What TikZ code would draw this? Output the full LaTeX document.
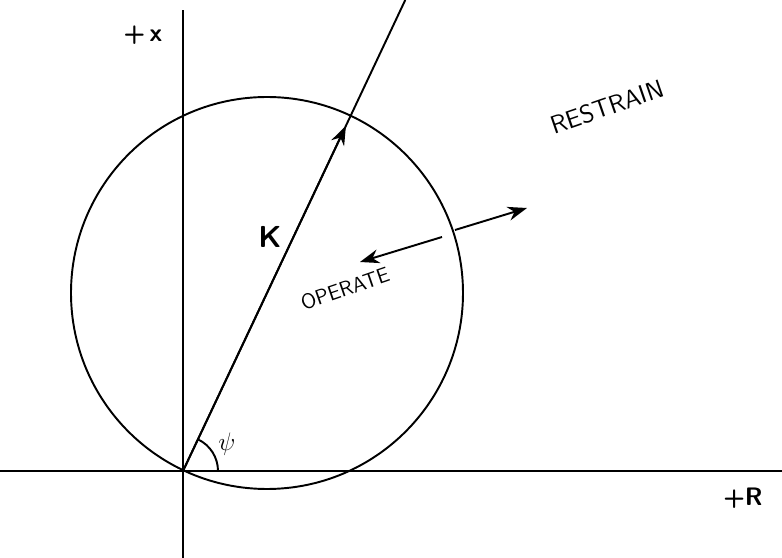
\documentclass[tikz,border=0pt]{standalone}
\usepackage{tikz}
\usetikzlibrary{arrows.meta,positioning,calc}

\begin{document}
\begin{tikzpicture}[x=0.02cm, y=0.02cm, line width=1.1pt,
    lab/.style={font=\sffamily\bfseries\Large},
    zone/.style={font=\sffamily\large, rotate=19},
    tip/.style={-{Stealth[length=11pt,width=8pt]}}]
    \useasboundingbox (-183,-87) rectangle (599,471);

    % Axes
    \coordinate (O) at (0,0);
    \draw (0,-87) -- (0,461);
    \draw (-183,0) -- (599,0);
    \node[lab] (xlab) at (-40,436) {+\,x};
    \node[lab] (Rlab) at (560,-27) {+R};

    % Characteristic circle
    \coordinate (C) at (84,178);
    \draw (C) circle (196);

    % Reach K along the diameter
    \coordinate (Kend) at ($(O)!2!(C)$);
    \coordinate (Ktop) at ($(O)!1.323!(Kend)$);
    \draw (O) -- (Ktop);
    \draw[tip] (O) -- ($(O)!0.97!(Kend)$);
    \node[font=\sffamily\bfseries\LARGE] (K) at (87,234) {K};

    % Angle
    \draw (35,0) arc (0:64.7:35);
    \node[font=\Large] (psi) at (44,27) {$\psi$};

    % Operate / restrain
    \coordinate (opA) at (259,234);
    \coordinate (opB) at (177,209);
    \coordinate (reA) at (272,241);
    \coordinate (reB) at (344,263);
    \draw[tip] (opA) -- (opB);
    \draw[tip] (reA) -- (reB);
    \node[zone] (operate) at (162,182) {OPERATE};
    \node[zone, font=\sffamily\Large] (restrain) at (424,364) {RESTRAIN};
\end{tikzpicture}
\end{document}
